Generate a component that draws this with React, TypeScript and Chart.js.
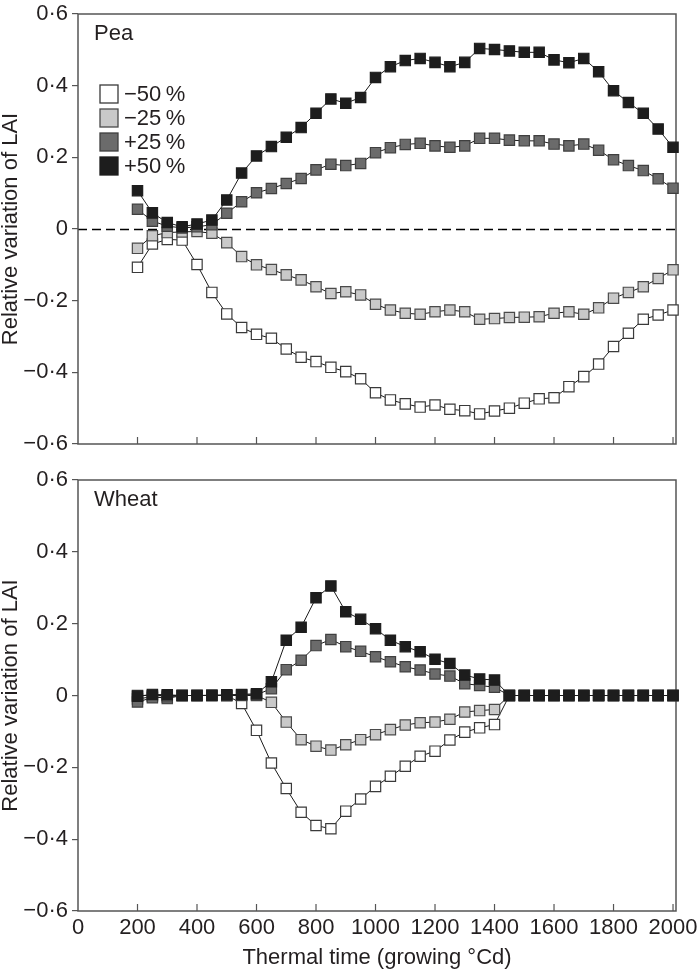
import React, { useEffect, useRef } from "react";
import { Chart, registerables } from "chart.js";

Chart.register(...registerables);

// ---------- data ----------
const thermalTime = [
  200, 250, 300, 350, 400, 450, 500, 550, 600, 650, 700, 750, 800, 850, 900, 950, 1000, 1050, 1100,
  1150, 1200, 1250, 1300, 1350, 1400, 1450, 1500, 1550, 1600, 1650, 1700, 1750, 1800, 1850, 1900, 1950, 2000,
];

const seriesLabels = ["\u221250\u2009%", "\u221225\u2009%", "+25\u2009%", "+50\u2009%"];

const peaMinus50 = [
  -0.107, -0.042, -0.029, -0.031, -0.099, -0.177, -0.237, -0.275, -0.294, -0.305, -0.335, -0.358, -0.37,
  -0.386, -0.398, -0.418, -0.457, -0.477, -0.488, -0.497, -0.491, -0.503, -0.507, -0.516, -0.508, -0.5,
  -0.486, -0.474, -0.471, -0.44, -0.412, -0.377, -0.328, -0.291, -0.252, -0.24, -0.226,
];
const peaMinus25 = [
  -0.054, -0.019, -0.01, -0.008, -0.007, -0.012, -0.038, -0.077, -0.1, -0.113, -0.128, -0.142, -0.161,
  -0.18, -0.175, -0.184, -0.21, -0.226, -0.235, -0.238, -0.231, -0.226, -0.231, -0.252, -0.25, -0.247,
  -0.246, -0.245, -0.235, -0.231, -0.238, -0.22, -0.193, -0.177, -0.161, -0.138, -0.114,
];
const peaPlus25 = [
  0.055, 0.022, 0.008, 0.003, 0.006, 0.012, 0.044, 0.076, 0.101, 0.113, 0.127, 0.141, 0.165, 0.181, 0.177,
  0.183, 0.213, 0.227, 0.236, 0.239, 0.232, 0.228, 0.232, 0.253, 0.253, 0.248, 0.246, 0.246, 0.237, 0.232,
  0.237, 0.22, 0.193, 0.177, 0.163, 0.14, 0.114,
];
const peaPlus50 = [
  0.107, 0.045, 0.018, 0.006, 0.014, 0.025, 0.081, 0.156, 0.204, 0.23, 0.256, 0.283, 0.323, 0.363, 0.351,
  0.367, 0.423, 0.453, 0.47, 0.476, 0.465, 0.453, 0.465, 0.504, 0.501, 0.497, 0.493, 0.493, 0.472, 0.464,
  0.476, 0.439, 0.386, 0.353, 0.323, 0.279, 0.228,
];

const wheatMinus50 = [
  0, 0, 0, 0, 0, 0, 0, -0.022, -0.097, -0.188, -0.259, -0.325, -0.362, -0.371, -0.322, -0.288, -0.253,
  -0.225, -0.197, -0.169, -0.155, -0.124, -0.102, -0.09, -0.081, 0, 0, 0, 0, 0, 0, 0, 0, 0, 0, 0, 0,
];
const wheatMinus25 = [
  -0.01, -0.003, -0.008, 0, 0, 0, 0, 0, 0, -0.019, -0.074, -0.123, -0.141, -0.152, -0.137, -0.123, -0.109,
  -0.095, -0.082, -0.076, -0.074, -0.066, -0.046, -0.042, -0.039, 0, 0, 0, 0, 0, 0, 0, 0, 0, 0, 0, 0,
];
const wheatPlus25 = [
  -0.018, -0.006, -0.004, 0, 0, 0, 0, 0.002, 0.002, 0.019, 0.072, 0.098, 0.139, 0.156, 0.136, 0.123, 0.108,
  0.094, 0.08, 0.071, 0.06, 0.054, 0.033, 0.028, 0.023, 0, 0, 0, 0, 0, 0, 0, 0, 0, 0, 0, 0,
];
const wheatPlus50 = [
  -0.002, 0.003, 0.002, 0, 0, 0.001, 0.002, 0.003, 0.005, 0.038, 0.154, 0.19, 0.272, 0.305, 0.233, 0.212,
  0.186, 0.154, 0.136, 0.122, 0.101, 0.089, 0.057, 0.046, 0.043, 0, 0, 0, 0, 0, 0, 0, 0, 0, 0, 0, 0,
];

const xTicks = [0, 200, 400, 600, 800, 1000, 1200, 1400, 1600, 1800, 2000];
const yTicks = [-0.6, -0.4, -0.2, 0, 0.2, 0.4, 0.6];
const yTickLabels = ["\u22120\u00b76", "\u22120\u00b74", "\u22120\u00b72", "0", "0\u00b72", "0\u00b74", "0\u00b76"];
const panelNames = ["Pea", "Wheat"];
const yTitle = "Relative variation of LAI";
const xTitle = "Thermal time (growing \u00b0Cd)";

// ---------- styles ----------
const FONT = "'Liberation Sans', Arial, Helvetica, sans-serif";
const TEXT = "#231f20";
const FRAME = "#555555";
const fills = ["#ffffff", "#c9c9c9", "#6b6b6b", "#1d1d1d"];
const borders = ["#3a3a3a", "#4a4a4a", "#3f3f3f", "#1d1d1d"];

function makeDatasets(series: number[][]) {
  return series.map((vals, i) => ({
    label: seriesLabels[i],
    data: thermalTime.map((x, j) => ({ x, y: vals[j] })),
    borderColor: "#1a1a1a",
    borderWidth: 1,
    pointStyle: "rect",
    pointRadius: 7.3,
    pointHoverRadius: 7.3,
    pointBackgroundColor: fills[i],
    pointBorderColor: borders[i],
    pointBorderWidth: 1.2,
    order: 3 - i,
    fill: false,
    tension: 0,
    clip: false as any,
  }));
}

const decorPlugin = {
  id: "panelDecor",
  beforeDatasetsDraw(chart: any, _args: any, opts: any) {
    const { ctx, chartArea: a, scales } = chart;
    ctx.save();
    if (opts.zeroLine) {
      const y0 = Math.round(scales.y.getPixelForValue(0)) + 0.5;
      ctx.strokeStyle = "#000";
      ctx.lineWidth = 1.3;
      ctx.setLineDash([9, 5]);
      ctx.beginPath();
      ctx.moveTo(a.left, y0);
      ctx.lineTo(a.right, y0);
      ctx.stroke();
      ctx.setLineDash([]);
    }
    // frame
    ctx.strokeStyle = FRAME;
    ctx.lineWidth = 1.5;
    ctx.strokeRect(a.left, a.top, a.right - a.left, a.bottom - a.top);
    // inward x ticks
    ctx.lineWidth = 1.2;
    xTicks
      .filter((v) => v > 0)
      .forEach((v) => {
        const px = scales.x.getPixelForValue(v);
        ctx.beginPath();
        ctx.moveTo(px, a.bottom);
        ctx.lineTo(px, a.bottom - 7);
        ctx.stroke();
      });
    ctx.restore();
  },
  afterDatasetsDraw(chart: any, _args: any, opts: any) {
    const { ctx, chartArea: a } = chart;
    ctx.save();
    ctx.fillStyle = TEXT;
    ctx.font = `22px ${FONT}`;
    ctx.textBaseline = "alphabetic";
    ctx.textAlign = "left";
    ctx.fillText(opts.name, a.left + 16, a.top + 26);
    if (opts.legend) {
      const rowStart = a.top + 80;
      const rowGap = 24;
      const sq = 18;
      chart.data.datasets.forEach((ds: any, i: number) => {
        const cy = rowStart + i * rowGap;
        const x = a.left + 22;
        ctx.fillStyle = ds.pointBackgroundColor;
        ctx.fillRect(x, cy - sq / 2, sq, sq);
        ctx.strokeStyle = ds.pointBorderColor;
        ctx.lineWidth = 1.3;
        ctx.strokeRect(x, cy - sq / 2, sq, sq);
        ctx.fillStyle = TEXT;
        ctx.textBaseline = "middle";
        ctx.fillText(ds.label, x + sq + 6, cy + 1);
      });
    }
    ctx.restore();
  },
};

function buildOptions(kind: "top" | "bottom", name: string) {
  const font = { family: FONT, size: 22 };
  const isBottom = kind === "bottom";
  return {
    animation: false,
    responsive: false,
    maintainAspectRatio: false,
    events: [],
    layout: {
      padding: isBottom
        ? { left: 0, right: 22, top: 20, bottom: 2 }
        : { left: 0, right: 22, top: 14, bottom: 16 },
    },
    plugins: {
      legend: { display: false },
      tooltip: { enabled: false },
      panelDecor: { name, legend: !isBottom, zeroLine: !isBottom },
    },
    scales: {
      x: {
        type: "linear",
        min: 0,
        max: 2010,
        display: isBottom,
        afterBuildTicks: (s: any) => {
          s.ticks = xTicks.map((v) => ({ value: v }));
        },
        afterFit: (s: any) => {
          if (isBottom) s.height = 60;
          s.paddingLeft = 0;
          s.paddingRight = 0;
        },
        ticks: {
          callback: (v: any) => String(v),
          font,
          color: TEXT,
          padding: 4,
          maxRotation: 0,
          autoSkip: false,
        },
        grid: { display: false, drawTicks: false },
        border: { display: false },
        title: { display: true, text: xTitle, font, color: TEXT, padding: 0 },
      },
      y: {
        type: "linear",
        min: -0.6,
        max: 0.6,
        afterBuildTicks: (s: any) => {
          s.ticks = yTicks.map((v) => ({ value: v }));
        },
        afterFit: (s: any) => {
          s.width = 80;
          s.paddingTop = 0;
          s.paddingBottom = 0;
        },
        ticks: {
          callback: (_v: any, i: number) => yTickLabels[i],
          font,
          color: TEXT,
          padding: 4,
          autoSkip: false,
        },
        grid: {
          display: true,
          drawOnChartArea: false,
          drawTicks: true,
          tickLength: 6,
          color: FRAME,
          lineWidth: 1.2,
        },
        border: { display: false },
        title: { display: true, text: yTitle, font, color: TEXT, padding: 0 },
      },
    },
  } as any;
}

export default function App() {
  const topRef = useRef<HTMLCanvasElement | null>(null);
  const bottomRef = useRef<HTMLCanvasElement | null>(null);

  useEffect(() => {
    document.body.style.margin = "0";
    const charts: Chart[] = [];
    if (topRef.current) {
      charts.push(
        new Chart(topRef.current, {
          type: "line",
          data: { datasets: makeDatasets([peaMinus50, peaMinus25, peaPlus25, peaPlus50]) as any },
          options: buildOptions("top", panelNames[0]),
          plugins: [decorPlugin as any],
        })
      );
    }
    if (bottomRef.current) {
      charts.push(
        new Chart(bottomRef.current, {
          type: "line",
          data: { datasets: makeDatasets([wheatMinus50, wheatMinus25, wheatPlus25, wheatPlus50]) as any },
          options: buildOptions("bottom", panelNames[1]),
          plugins: [decorPlugin as any],
        })
      );
    }
    return () => charts.forEach((c) => c.destroy());
  }, []);

  return (
    <div
      style={{
        position: "absolute",
        left: 0,
        top: 0,
        width: 698,
        height: 973,
        overflow: "hidden",
        background: "#fff",
      }}
    >
      <canvas
        ref={topRef}
        width={700}
        height={460}
        style={{ position: "absolute", left: -2, top: 0, width: 700, height: 460 }}
      />
      <canvas
        ref={bottomRef}
        width={700}
        height={513}
        style={{ position: "absolute", left: -2, top: 460, width: 700, height: 513 }}
      />
    </div>
  );
}
